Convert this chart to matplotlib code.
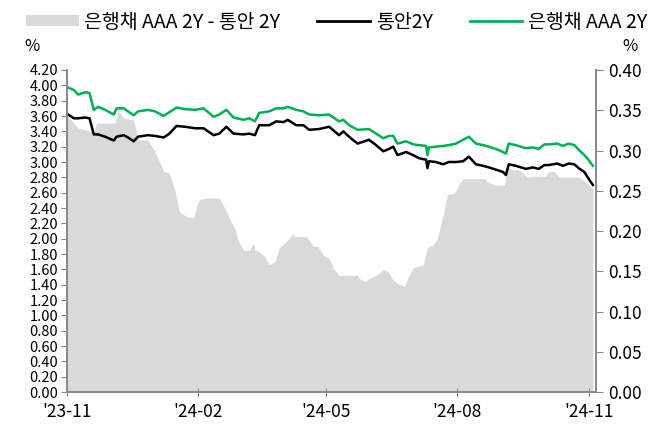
import numpy as np
import pandas as pd
import matplotlib
matplotlib.use("Agg")
import matplotlib.pyplot as plt
from matplotlib.patches import Patch
from matplotlib.lines import Line2D

plt.rcParams['font.family'] = ['Noto Sans CJK KR', 'DejaVu Sans']

# 통안2Y / 은행채 AAA 2Y (%, left axis)
line_dates = ["2023-11-02", "2023-11-06", "2023-11-09", "2023-11-14", "2023-11-17",
              "2023-11-20", "2023-11-23", "2023-11-28", "2023-12-04", "2023-12-06",
              "2023-12-11", "2023-12-14", "2023-12-18", "2023-12-21", "2023-12-28",
              "2024-01-02", "2024-01-08", "2024-01-12", "2024-01-17", "2024-01-23",
              "2024-01-30", "2024-02-05", "2024-02-12", "2024-02-16", "2024-02-21",
              "2024-02-26", "2024-03-04", "2024-03-08", "2024-03-12", "2024-03-15",
              "2024-03-22", "2024-03-27", "2024-04-01", "2024-04-04", "2024-04-10",
              "2024-04-15", "2024-04-19", "2024-04-26", "2024-05-03", "2024-05-10",
              "2024-05-13", "2024-05-17", "2024-05-23", "2024-05-31", "2024-06-05",
              "2024-06-10", "2024-06-14", "2024-06-17", "2024-06-20", "2024-06-26",
              "2024-07-01", "2024-07-05", "2024-07-10", "2024-07-11", "2024-07-12",
              "2024-07-17", "2024-07-22", "2024-07-26", "2024-07-31", "2024-08-05",
              "2024-08-09", "2024-08-14", "2024-08-19", "2024-08-23", "2024-08-28",
              "2024-09-02", "2024-09-04", "2024-09-06", "2024-09-11", "2024-09-18",
              "2024-09-23", "2024-09-27", "2024-10-01", "2024-10-04", "2024-10-10",
              "2024-10-14", "2024-10-18", "2024-10-22", "2024-10-25", "2024-10-29",
              "2024-10-31", "2024-11-04"]
msb_2y = [3.62, 3.57, 3.57, 3.58, 3.57, 3.36, 3.36, 3.33, 3.28, 3.33,
          3.35, 3.32, 3.27, 3.33, 3.35, 3.34, 3.32, 3.37, 3.47, 3.46,
          3.44, 3.44, 3.35, 3.37, 3.46, 3.37, 3.36, 3.37, 3.35, 3.48,
          3.48, 3.53, 3.52, 3.55, 3.48, 3.48, 3.42, 3.43, 3.46, 3.35,
          3.40, 3.33, 3.24, 3.29, 3.22, 3.14, 3.17, 3.20, 3.09, 3.13,
          3.09, 3.05, 3.03, 2.92, 3.01, 3.00, 2.97, 3.00, 3.00, 3.01,
          3.07, 2.97, 2.95, 2.93, 2.90, 2.87, 2.83, 2.97, 2.95, 2.91,
          2.93, 2.91, 2.96, 2.96, 2.98, 2.95, 2.98, 2.97, 2.92, 2.87,
          2.81, 2.70]
bank_2y = [3.97, 3.94, 3.88, 3.91, 3.90, 3.68, 3.72, 3.68, 3.62, 3.70,
           3.70, 3.66, 3.61, 3.66, 3.68, 3.66, 3.60, 3.65, 3.71, 3.69,
           3.68, 3.70, 3.59, 3.62, 3.68, 3.58, 3.55, 3.57, 3.53, 3.64,
           3.66, 3.70, 3.70, 3.72, 3.68, 3.66, 3.62, 3.61, 3.62, 3.53,
           3.55, 3.48, 3.42, 3.43, 3.37, 3.31, 3.34, 3.34, 3.24, 3.27,
           3.23, 3.22, 3.21, 3.09, 3.19, 3.20, 3.21, 3.22, 3.24, 3.29,
           3.33, 3.24, 3.22, 3.20, 3.17, 3.13, 3.11, 3.24, 3.22, 3.18,
           3.19, 3.17, 3.23, 3.23, 3.24, 3.21, 3.24, 3.22, 3.16, 3.09,
           3.05, 2.95]

# 은행채 AAA 2Y - 통안 2Y (%p, right axis)
spread_dates = ["2023-11-01", "2023-11-02", "2023-11-09", "2023-11-15", "2023-11-20",
                "2023-11-22", "2023-12-05", "2023-12-07", "2023-12-11", "2023-12-18",
                "2023-12-21", "2023-12-28", "2024-01-02", "2024-01-08", "2024-01-12",
                "2024-01-16", "2024-01-19", "2024-01-24", "2024-01-29", "2024-01-31",
                "2024-02-02", "2024-02-07", "2024-02-16", "2024-02-20", "2024-02-23",
                "2024-02-27", "2024-02-29", "2024-03-04", "2024-03-08", "2024-03-11",
                "2024-03-12", "2024-03-15", "2024-03-19", "2024-03-22", "2024-03-26",
                "2024-03-29", "2024-04-03", "2024-04-08", "2024-04-09", "2024-04-17",
                "2024-04-22", "2024-04-25", "2024-04-29", "2024-05-03", "2024-05-06",
                "2024-05-10", "2024-05-23", "2024-05-24", "2024-05-29", "2024-05-31",
                "2024-06-05", "2024-06-10", "2024-06-13", "2024-06-17", "2024-06-20",
                "2024-06-25", "2024-06-27", "2024-07-01", "2024-07-04", "2024-07-08",
                "2024-07-11", "2024-07-15", "2024-07-18", "2024-07-22", "2024-07-25",
                "2024-07-30", "2024-08-02", "2024-08-05", "2024-08-20", "2024-08-22",
                "2024-08-27", "2024-09-03", "2024-09-05", "2024-09-09", "2024-09-13",
                "2024-09-19", "2024-09-23", "2024-10-02", "2024-10-04", "2024-10-08",
                "2024-10-11", "2024-10-25", "2024-10-28", "2024-11-04"]
spread = [0.344, 0.342, 0.328, 0.325, 0.323, 0.334, 0.334, 0.350, 0.340, 0.338,
          0.313, 0.313, 0.298, 0.274, 0.272, 0.249, 0.224, 0.218, 0.216, 0.230,
          0.239, 0.241, 0.241, 0.228, 0.216, 0.203, 0.189, 0.176, 0.176, 0.185,
          0.176, 0.174, 0.168, 0.158, 0.162, 0.179, 0.187, 0.197, 0.193, 0.193,
          0.181, 0.181, 0.170, 0.166, 0.154, 0.145, 0.145, 0.141, 0.137, 0.141,
          0.145, 0.152, 0.150, 0.139, 0.135, 0.131, 0.141, 0.154, 0.156, 0.158,
          0.179, 0.183, 0.191, 0.220, 0.245, 0.247, 0.257, 0.265, 0.265, 0.261,
          0.257, 0.257, 0.280, 0.276, 0.276, 0.267, 0.268, 0.268, 0.274, 0.274,
          0.267, 0.267, 0.263, 0.253]

x_ticks = ["2023-11-01", "2024-02-01", "2024-05-01", "2024-08-01", "2024-11-01"]
x_ticklabels = ["'23-11", "'24-02", "'24-05", "'24-08", "'24-11"]

line_dates = pd.to_datetime(line_dates)
spread_dates = pd.to_datetime(spread_dates)

fig = plt.figure(figsize=(6.52, 4.25), dpi=100)
ax = fig.add_axes([0.1023, 0.0776, 0.8114, 0.7577])
ax2 = ax.twinx()

ax2.fill_between(spread_dates, 0, spread, color="#d9d9d9", linewidth=0)
ax.plot(line_dates, msb_2y, color="black", lw=1.8)
ax.plot(line_dates, bank_2y, color="#00b050", lw=1.8)

ax.set_zorder(ax2.get_zorder() + 1)
ax.patch.set_visible(False)

ax.set_ylim(0, 4.2)
ax.set_yticks(np.arange(0, 4.21, 0.2))
ax.set_yticklabels([f"{v:.2f}" for v in np.arange(0, 4.21, 0.2)])
ax2.set_ylim(0, 0.4)
ax2.set_yticks(np.arange(0, 0.401, 0.05))
ax2.set_yticklabels([f"{v:.2f}" for v in np.arange(0, 0.401, 0.05)])

ax.set_xlim(pd.Timestamp("2023-11-01"), pd.Timestamp("2024-11-06"))
ax.set_xticks(pd.to_datetime(x_ticks))
ax.set_xticklabels(x_ticklabels)

for a in (ax, ax2):
    a.spines['top'].set_visible(False)
    for s in ('left', 'right', 'bottom'):
        a.spines[s].set_color("#888888")
        a.spines[s].set_linewidth(1.2)
ax.tick_params(axis='y', colors="#888888", labelcolor="black", labelsize=10.5, length=4, pad=2)
ax2.tick_params(axis='y', colors="#888888", labelcolor="black", labelsize=12.5, length=5, pad=4)
ax.tick_params(axis='x', colors="#888888", labelcolor="black", labelsize=12.5, length=6,
               direction='inout', pad=5)

fig.text(0.038, 0.88, "%", fontsize=12)
fig.text(0.955, 0.88, "%", fontsize=12)

handles = [Patch(facecolor="#d9d9d9", edgecolor="none"),
           Line2D([], [], color="black", lw=2),
           Line2D([], [], color="#00b050", lw=2)]
labels = ["은행채 AAA 2Y - 통안 2Y", "통안2Y", "은행채 AAA 2Y"]
fig.legend(handles, labels, loc="upper left", bbox_to_anchor=(0.022, 1.0), ncol=3,
           frameon=False, fontsize=14, handlelength=2.7, handleheight=0.5,
           handletextpad=0.3, columnspacing=1.9, borderaxespad=0.2)

fig.savefig("out.png", dpi=100)
